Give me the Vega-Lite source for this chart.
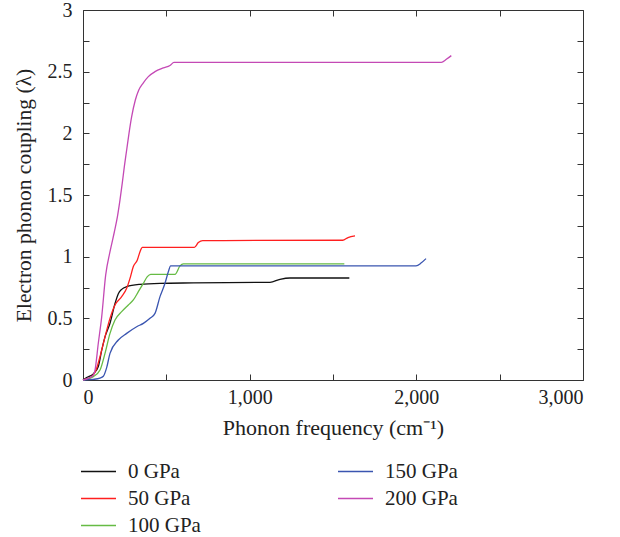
{
  "$schema": "https://vega.github.io/schema/vega-lite/v6.json",
  "width": 500,
  "height": 370,
  "autosize": {"type": "none"},
  "padding": {"left": 83, "top": 10, "right": 37, "bottom": 157},
  "background": "white",
  "config": {
    "font": "Liberation Serif",
    "view": {"stroke": null},
    "axis": {"grid": false, "domainColor": "#333", "tickColor": "#333", "labelFont": "Liberation Serif", "titleFont": "Liberation Serif", "labelColor": "#222", "titleColor": "#222", "titleFontWeight": "normal", "labelFontSize": 20, "titleFontSize": 21.5, "labelOverlap": false, "tickSize": -6}
  },
  "data": {"values": [
    {"p": "0 GPa", "f": 0, "l": 0}, {"p": "0 GPa", "f": 22, "l": 0.02}, {"p": "0 GPa", "f": 62, "l": 0.05}, {"p": "0 GPa", "f": 92, "l": 0.11}, {"p": "0 GPa", "f": 112, "l": 0.24}, {"p": "0 GPa", "f": 132, "l": 0.35}, {"p": "0 GPa", "f": 162, "l": 0.46}, {"p": "0 GPa", "f": 192, "l": 0.62}, {"p": "0 GPa", "f": 212, "l": 0.70}, {"p": "0 GPa", "f": 232, "l": 0.735}, {"p": "0 GPa", "f": 262, "l": 0.757}, {"p": "0 GPa", "f": 342, "l": 0.776}, {"p": "0 GPa", "f": 462, "l": 0.784}, {"p": "0 GPa", "f": 662, "l": 0.787}, {"p": "0 GPa", "f": 1122, "l": 0.792}, {"p": "0 GPa", "f": 1182, "l": 0.816}, {"p": "0 GPa", "f": 1242, "l": 0.827}, {"p": "0 GPa", "f": 1598, "l": 0.827},
    {"p": "50 GPa", "f": 0, "l": 0}, {"p": "50 GPa", "f": 52, "l": 0.027}, {"p": "50 GPa", "f": 82, "l": 0.095}, {"p": "50 GPa", "f": 102, "l": 0.19}, {"p": "50 GPa", "f": 132, "l": 0.35}, {"p": "50 GPa", "f": 162, "l": 0.50}, {"p": "50 GPa", "f": 192, "l": 0.608}, {"p": "50 GPa", "f": 232, "l": 0.676}, {"p": "50 GPa", "f": 262, "l": 0.743}, {"p": "50 GPa", "f": 282, "l": 0.824}, {"p": "50 GPa", "f": 302, "l": 0.92}, {"p": "50 GPa", "f": 326, "l": 0.973}, {"p": "50 GPa", "f": 342, "l": 1.04}, {"p": "50 GPa", "f": 356, "l": 1.076}, {"p": "50 GPa", "f": 668, "l": 1.076}, {"p": "50 GPa", "f": 692, "l": 1.114}, {"p": "50 GPa", "f": 718, "l": 1.13}, {"p": "50 GPa", "f": 1558, "l": 1.133}, {"p": "50 GPa", "f": 1590, "l": 1.155}, {"p": "50 GPa", "f": 1632, "l": 1.168},
    {"p": "100 GPa", "f": 0, "l": 0}, {"p": "100 GPa", "f": 62, "l": 0.027}, {"p": "100 GPa", "f": 102, "l": 0.081}, {"p": "100 GPa", "f": 132, "l": 0.216}, {"p": "100 GPa", "f": 162, "l": 0.378}, {"p": "100 GPa", "f": 192, "l": 0.486}, {"p": "100 GPa", "f": 232, "l": 0.554}, {"p": "100 GPa", "f": 272, "l": 0.608}, {"p": "100 GPa", "f": 302, "l": 0.649}, {"p": "100 GPa", "f": 332, "l": 0.716}, {"p": "100 GPa", "f": 362, "l": 0.784}, {"p": "100 GPa", "f": 386, "l": 0.838}, {"p": "100 GPa", "f": 406, "l": 0.857}, {"p": "100 GPa", "f": 552, "l": 0.857}, {"p": "100 GPa", "f": 582, "l": 0.925}, {"p": "100 GPa", "f": 602, "l": 0.941}, {"p": "100 GPa", "f": 1568, "l": 0.941},
    {"p": "150 GPa", "f": 0, "l": 0}, {"p": "150 GPa", "f": 62, "l": 0.005}, {"p": "150 GPa", "f": 102, "l": 0.015}, {"p": "150 GPa", "f": 122, "l": 0.03}, {"p": "150 GPa", "f": 142, "l": 0.1}, {"p": "150 GPa", "f": 162, "l": 0.216}, {"p": "150 GPa", "f": 212, "l": 0.324}, {"p": "150 GPa", "f": 262, "l": 0.378}, {"p": "150 GPa", "f": 322, "l": 0.432}, {"p": "150 GPa", "f": 362, "l": 0.459}, {"p": "150 GPa", "f": 402, "l": 0.50}, {"p": "150 GPa", "f": 432, "l": 0.54}, {"p": "150 GPa", "f": 462, "l": 0.676}, {"p": "150 GPa", "f": 492, "l": 0.784}, {"p": "150 GPa", "f": 512, "l": 0.878}, {"p": "150 GPa", "f": 526, "l": 0.925}, {"p": "150 GPa", "f": 1998, "l": 0.925}, {"p": "150 GPa", "f": 2030, "l": 0.95}, {"p": "150 GPa", "f": 2058, "l": 0.984},
    {"p": "200 GPa", "f": 0, "l": 0}, {"p": "200 GPa", "f": 42, "l": 0.02}, {"p": "200 GPa", "f": 62, "l": 0.04}, {"p": "200 GPa", "f": 72, "l": 0.08}, {"p": "200 GPa", "f": 92, "l": 0.3}, {"p": "200 GPa", "f": 112, "l": 0.51}, {"p": "200 GPa", "f": 136, "l": 0.85}, {"p": "200 GPa", "f": 162, "l": 1.04}, {"p": "200 GPa", "f": 188, "l": 1.2}, {"p": "200 GPa", "f": 206, "l": 1.32}, {"p": "200 GPa", "f": 222, "l": 1.46}, {"p": "200 GPa", "f": 236, "l": 1.6}, {"p": "200 GPa", "f": 248, "l": 1.73}, {"p": "200 GPa", "f": 262, "l": 1.865}, {"p": "200 GPa", "f": 276, "l": 2.0}, {"p": "200 GPa", "f": 292, "l": 2.135}, {"p": "200 GPa", "f": 314, "l": 2.27}, {"p": "200 GPa", "f": 334, "l": 2.35}, {"p": "200 GPa", "f": 362, "l": 2.41}, {"p": "200 GPa", "f": 392, "l": 2.46}, {"p": "200 GPa", "f": 432, "l": 2.5}, {"p": "200 GPa", "f": 482, "l": 2.53}, {"p": "200 GPa", "f": 522, "l": 2.55}, {"p": "200 GPa", "f": 546, "l": 2.575}, {"p": "200 GPa", "f": 2150, "l": 2.575}, {"p": "200 GPa", "f": 2180, "l": 2.6}, {"p": "200 GPa", "f": 2210, "l": 2.63}
  ]},
  "layer": [
    {
      "mark": {"type": "line", "strokeWidth": 1.3, "interpolate": "monotone"},
      "encoding": {
        "x": {"field": "f", "type": "quantitative", "scale": {"domain": [0, 3000], "nice": false},
          "axis": {"orient": "bottom", "title": "Phonon frequency (cm⁻¹)", "titleFontSize": 22, "values": [0, 500, 1000, 1500, 2000, 2500, 3000], "labelExpr": "datum.value % 1000 === 0 ? format(datum.value, ',') : ''", "labelPadding": 13, "titlePadding": 10,
            "encode": {"ticks": {"enter": {"y2": {"signal": "datum.value % 1000 === 0 ? -7 : -4"}}, "update": {"y2": {"signal": "datum.value % 1000 === 0 ? -7 : -4"}}}}}},
        "y": {"field": "l", "type": "quantitative", "scale": {"domain": [0, 3], "nice": false},
          "axis": {"orient": "left", "title": "Electron phonon coupling (λ)", "values": [0, 0.25, 0.5, 0.75, 1, 1.25, 1.5, 1.75, 2, 2.25, 2.5, 2.75, 3], "labelExpr": "datum.value % 0.5 === 0 ? format(datum.value, '~g') : ''", "labelPadding": 17, "titlePadding": 12,
            "encode": {"ticks": {"enter": {"x2": {"signal": "datum.value % 0.5 === 0 ? 7 : 4"}}, "update": {"x2": {"signal": "datum.value % 0.5 === 0 ? 7 : 4"}}}}}},
        "color": {"field": "p", "type": "nominal",
          "scale": {"domain": ["0 GPa", "50 GPa", "100 GPa", "150 GPa", "200 GPa"], "range": ["#111111", "#ff1f1f", "#66bb44", "#3a55b0", "#c449b5"]},
          "legend": {"orient": "none", "legendX": -3, "legendY": 448, "title": null, "columns": 2, "direction": "vertical", "symbolType": "stroke", "symbolSize": 1225, "symbolStrokeWidth": 1.6, "labelFont": "Liberation Serif", "labelFontSize": 21, "labelColor": "#222", "labelOffset": 11, "columnPadding": 136, "rowPadding": 0, "clipHeight": 27, "padding": 0}}
      }
    },
    {
      "mark": {"type": "point", "opacity": 0},
      "encoding": {
        "x": {"field": "f", "type": "quantitative", "scale": {"domain": [0, 3000], "nice": false},
          "axis": {"orient": "top", "title": null, "labels": false, "values": [0, 500, 1000, 1500, 2000, 2500, 3000],
            "encode": {"ticks": {"enter": {"y2": {"signal": "datum.value % 1000 === 0 ? 7 : 4"}}, "update": {"y2": {"signal": "datum.value % 1000 === 0 ? 7 : 4"}}}}}},
        "y": {"field": "l", "type": "quantitative", "scale": {"domain": [0, 3], "nice": false},
          "axis": {"orient": "right", "title": null, "labels": false, "values": [0, 0.25, 0.5, 0.75, 1, 1.25, 1.5, 1.75, 2, 2.25, 2.5, 2.75, 3],
            "encode": {"ticks": {"enter": {"x2": {"signal": "datum.value % 0.5 === 0 ? -7 : -4"}}, "update": {"x2": {"signal": "datum.value % 0.5 === 0 ? -7 : -4"}}}}}}
      }
    }
  ],
  "resolve": {"axis": {"x": "independent", "y": "independent"}}
}
